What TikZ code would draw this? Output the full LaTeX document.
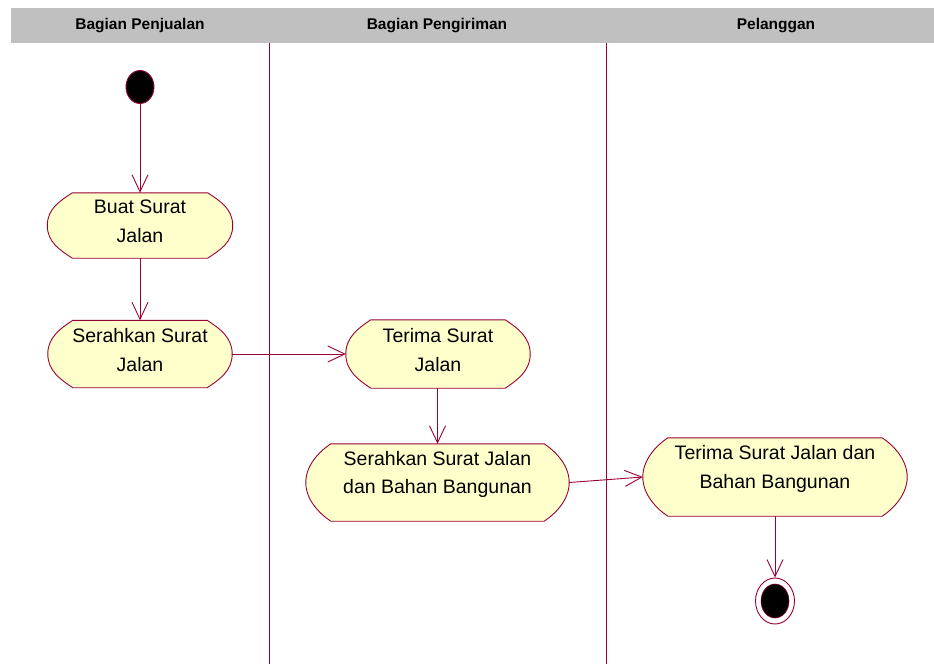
\documentclass[tikz,border=0pt]{standalone}
\usepackage{fontspec}
\setmainfont{Liberation Sans}
\usetikzlibrary{arrows.meta,shapes.geometric}
\definecolor{umlline}{RGB}{153,0,51}
\definecolor{umlfill}{RGB}{255,255,204}
\definecolor{lanehead}{RGB}{192,192,192}
\tikzset{
  actbox/.style={rectangle, draw=none, inner sep=0pt},
  actshape/.style={draw=umlline, fill=umlfill, line width=0.9pt},
  acttext/.style={align=center, inner sep=0pt, text=black,
    font=\fontsize{19.5}{28.7}\selectfont},
  head/.style={font=\bfseries\fontsize{15.5}{18}\selectfont, inner sep=0pt},
  lane/.style={draw=umlline, line width=0.9pt},
  flow/.style={draw=umlline, line width=0.9pt,
    -{Straight Barb[length=17pt,width=16pt,line width=0.9pt]}},
}
% activity outline: flat top and bottom, bowed ends
\newcommand\actoutline[1]{%
  \path[actshape]
    ([xshift=25pt]#1.north west) -- ([xshift=-25pt]#1.north east)
    .. controls ([xshift=-13pt,yshift=-8pt]#1.north east) and ([yshift=17pt]#1.east) .. (#1.east)
    .. controls ([yshift=-17pt]#1.east) and ([xshift=-13pt,yshift=8pt]#1.south east) .. ([xshift=-25pt]#1.south east)
    -- ([xshift=25pt]#1.south west)
    .. controls ([xshift=13pt,yshift=8pt]#1.south west) and ([yshift=-17pt]#1.west) .. (#1.west)
    .. controls ([yshift=17pt]#1.west) and ([xshift=13pt,yshift=-8pt]#1.north west) .. cycle;}
\begin{document}
\begin{tikzpicture}[x=1pt,y=-1pt]
  \useasboundingbox (0,0) rectangle (934,664);

  % swimlane header and separators
  \fill[lanehead] (11,8) rectangle (934,43);
  \node[head] (h1) at (140,26) {Bagian Penjualan};
  \node[head] (h2) at (437,26) {Bagian Pengiriman};
  \node[head] (h3) at (776,26) {Pelanggan};
  \coordinate (l1t) at (269,43); \coordinate (l1b) at (269,664);
  \coordinate (l2t) at (606,43); \coordinate (l2b) at (606,664);
  \draw[lane] (l1t) -- (l1b);
  \draw[lane] (l2t) -- (l2b);

  % initial state
  \node[ellipse, draw=umlline, fill=black, line width=0.9pt, inner sep=0pt,
        minimum width=28pt, minimum height=33pt] (start) at (140,87) {};

  % activities
  \node[actbox, minimum width=185pt, minimum height=65pt] (buat) at (140,225.5) {};
  \actoutline{buat}
  \node[acttext] (buatT) at ([yshift=4pt]buat.center) {Buat Surat\\Jalan};

  \node[actbox, minimum width=184pt, minimum height=67pt] (srh1) at (140,354) {};
  \actoutline{srh1}
  \node[acttext] (srh1T) at ([yshift=4pt]srh1.center) {Serahkan Surat\\Jalan};

  \node[actbox, minimum width=184pt, minimum height=68pt] (trm1) at (438,354) {};
  \actoutline{trm1}
  \node[acttext] (trm1T) at ([yshift=4pt]trm1.center) {Terima Surat\\Jalan};

  \node[actbox, minimum width=263pt, minimum height=77pt] (srh2) at (437.5,482.5) {};
  \actoutline{srh2}
  \node[acttext] (srh2T) at ([yshift=8pt]srh2.center) {Serahkan Surat Jalan\\dan Bahan Bangunan};

  \node[actbox, minimum width=264pt, minimum height=78pt] (trm2) at (775,477) {};
  \actoutline{trm2}
  \node[acttext] (trm2T) at ([yshift=8pt]trm2.center) {Terima Surat Jalan dan\\Bahan Bangunan};

  % final state
  \node[ellipse, draw=umlline, fill=white, line width=0.9pt, inner sep=0pt,
        minimum width=39pt, minimum height=46pt] (endO) at (775,601) {};
  \node[ellipse, draw=umlline, fill=black, line width=0.6pt, inner sep=0pt,
        minimum width=28pt, minimum height=34pt] (endI) at (775,601) {};

  % transitions
  \draw[flow] (start) -- (buat);
  \draw[flow] (buat) -- (srh1);
  \draw[flow] (srh1) -- (trm1);
  \draw[flow] (trm1.south -| srh2.north) -- (srh2.north);
  \draw[flow] (srh2.east) -- (trm2.west);
  \draw[flow] (trm2) -- (endO);
\end{tikzpicture}
\end{document}
